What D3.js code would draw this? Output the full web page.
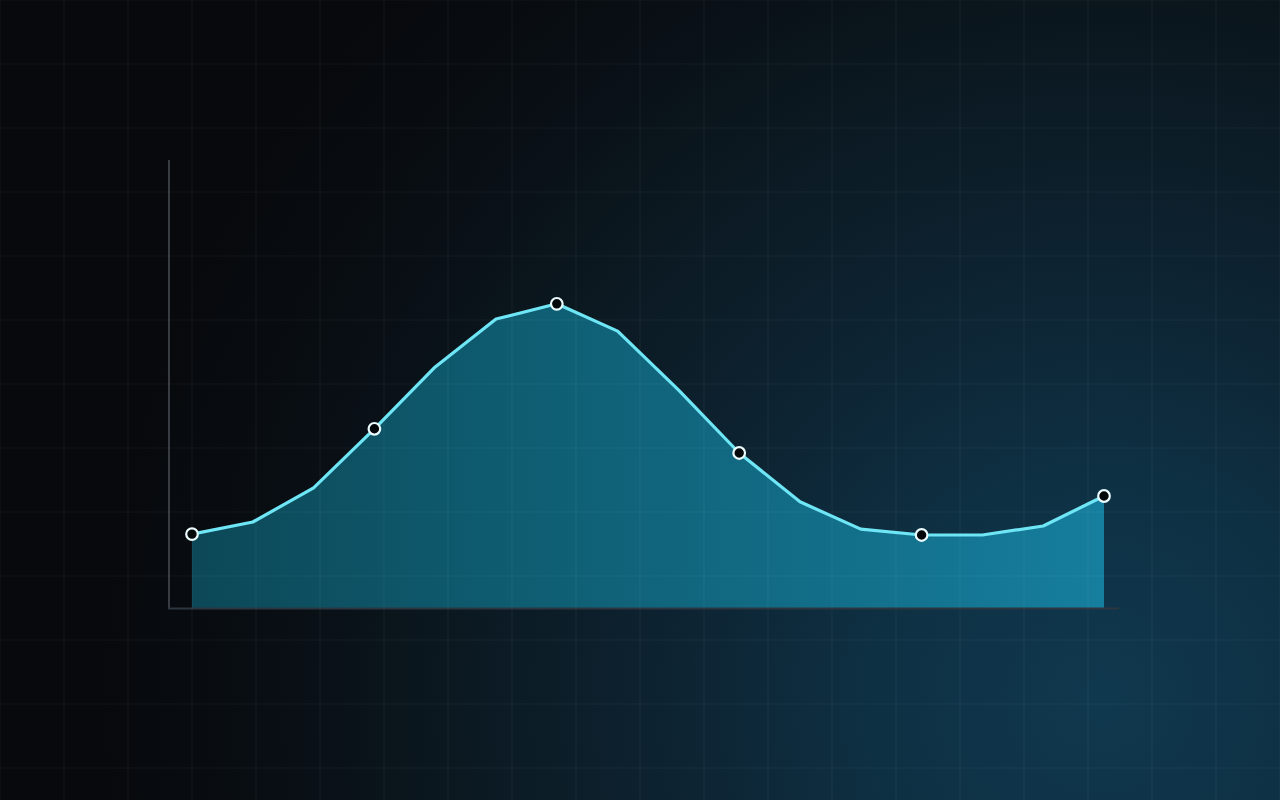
<!DOCTYPE html>
<html>
<head>
<meta charset="utf-8">
<script src="https://cdn.jsdelivr.net/npm/d3@7"></script>
<style>
html,body{margin:0;padding:0;background:#07090c;overflow:hidden;}
svg{display:block;}
</style>
</head>
<body>
<svg id="chart" width="1280" height="800"></svg>
<script>
// ---- data ----
const categories = ["P1","P2","P3","P4","P5","P6","P7","P8","P9","P10","P11","P12","P13","P14","P15","P16"];
const values = [16.5, 19.2, 26.8, 40.0, 53.8, 64.5, 67.9, 61.8, 48.7, 34.6, 23.7, 17.6, 16.3, 16.3, 18.3, 25.0];
const markerIndices = [0, 3, 6, 9, 12, 15];
const yDomain = [0, 100];

const W = 1280, H = 800;
const svg = d3.select("#chart");
const defs = svg.append("defs");

// background radial glow
const bg = defs.append("radialGradient").attr("id","bg")
  .attr("gradientUnits","userSpaceOnUse").attr("cx",1100).attr("cy",700).attr("r",1150);
[[0,"#10384e"],[0.2,"#0e3043"],[0.39,"#0d2230"],[0.57,"#0b1820"],[0.7,"#090f15"],[0.88,"#07090c"],[1,"#07090c"]]
  .forEach(([o,c])=>bg.append("stop").attr("offset",o).attr("stop-color",c));

const areaGrad = defs.append("linearGradient").attr("id","areaGrad")
  .attr("gradientUnits","userSpaceOnUse").attr("x1",192).attr("y1",0).attr("x2",1104).attr("y2",0);
[[0,"#0c4857"],[0.4,"#0f5f74"],[1,"#167e9e"]]
  .forEach(([o,c])=>areaGrad.append("stop").attr("offset",o).attr("stop-color",c));

svg.append("rect").attr("width",W).attr("height",H).attr("fill","url(#bg)");

const x = d3.scalePoint().domain(categories).range([192, 1104]);
const y = d3.scaleLinear().domain(yDomain).range([608, 160]);

const data = categories.map((c,i)=>({c, v: values[i], i}));

// area
svg.append("path").datum(data)
  .attr("fill","url(#areaGrad)")
  .attr("d", d3.area().x(d=>x(d.c)).y0(y(0)).y1(d=>y(d.v)));

// grid
const grid = svg.append("g").attr("stroke","#ffffff").attr("stroke-opacity",0.05).attr("stroke-width",1.2);
d3.range(0, W+1, 64).forEach(gx=>grid.append("line").attr("x1",gx).attr("x2",gx).attr("y1",0).attr("y2",H));
d3.range(0, H+1, 64).forEach(gy=>grid.append("line").attr("x1",0).attr("x2",W).attr("y1",gy).attr("y2",gy));

// axes
svg.append("line").attr("x1",169).attr("x2",169).attr("y1",160).attr("y2",609)
  .attr("stroke","#4a4f56").attr("stroke-width",1.5);
svg.append("line").attr("x1",168).attr("x2",1119).attr("y1",608.5).attr("y2",608.5)
  .attr("stroke","#2c3640").attr("stroke-width",2);

// line
svg.append("path").datum(data)
  .attr("fill","none").attr("stroke","#6fe6f5").attr("stroke-width",3.2)
  .attr("stroke-linejoin","round")
  .attr("d", d3.line().x(d=>x(d.c)).y(d=>y(d.v)));

// markers
svg.append("g").selectAll("circle").data(data.filter(d=>markerIndices.includes(d.i)))
  .join("circle")
  .attr("cx",d=>x(d.c)).attr("cy",d=>y(d.v)).attr("r",5.8)
  .attr("fill","#05080b").attr("stroke","#eafcff").attr("stroke-width",2.2);
</script>
</body>
</html>
